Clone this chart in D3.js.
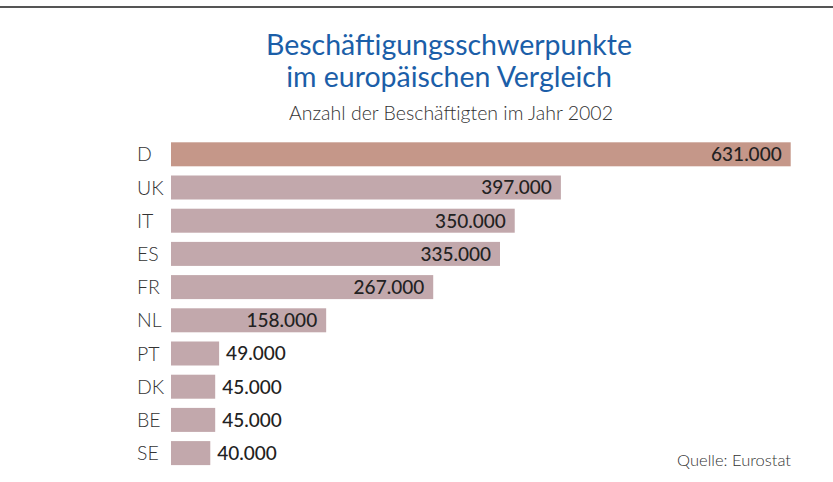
<!DOCTYPE html>
<html>
<head>
<meta charset="utf-8">
<script src="https://cdn.jsdelivr.net/npm/d3@7"></script>
<style>
  body { margin: 0; background: #fff; }
  svg { display: block; }
  text { font-family: Lato, "Open Sans", sans-serif; }
</style>
</head>
<body>
<div id="chart"></div>
<script>
'use strict';

// data
var countries = ['D', 'UK', 'IT', 'ES', 'FR', 'NL', 'PT', 'DK', 'BE', 'SE'],
    employees = [631000, 397000, 350000, 335000, 267000, 158000, 49000, 45000, 45000, 40000],
    highlighted = 'D',
    title_lines = ['Beschäftigungsschwerpunkte', 'im europäischen Vergleich'],
    subtitle = 'Anzahl der Beschäftigten im Jahr 2002',
    source = 'Quelle: Eurostat';

var width = 833,
    height = 482;

var svg = d3.select('#chart')
    .append('svg')
    .attr('width', width)
    .attr('height', height);

// rule along the top
svg.append('line')
    .attr('x1', 0).attr('x2', width)
    .attr('y1', 7).attr('y2', 7)
    .attr('stroke', '#555')
    .attr('stroke-width', 2);

// titles
svg.selectAll('.title')
    .data(title_lines)
    .enter().append('text')
    .attr('class', 'title')
    .attr('x', 449)
    .attr('y', function(d, i) { return 55 + i * 32; })
    .attr('text-anchor', 'middle')
    .attr('font-size', 28.5)
    .attr('fill', '#1b5ea8')
    .text(function(d) { return d; });

svg.append('text')
    .attr('x', 451)
    .attr('y', 120)
    .attr('text-anchor', 'middle')
    .attr('font-size', 19.5)
    .attr('font-weight', 300)
    .attr('fill', '#333')
    .text(subtitle);

var x = d3.scaleLinear()
    .domain([0, d3.max(employees)])
    .range([171, 790.7]);

var y = d3.scaleBand()
    .domain(countries)
    .range([142.3, 465.1])
    .paddingInner(0.277)
    .paddingOuter(0);

var rows = countries.map(function(c, i) { return { country: c, value: employees[i] }; });
var fmt = function(v) { return d3.format(',')(v).replace(/,/g, '.'); };

svg.selectAll('.bar')
    .data(rows)
    .enter().append('rect')
    .attr('class', 'bar')
    .attr('x', x(0))
    .attr('y', function(d) { return y(d.country); })
    .attr('width', function(d) { return x(d.value) - x(0); })
    .attr('height', y.bandwidth())
    .attr('fill', function(d) { return d.country === highlighted ? '#c59789' : '#c2a8ac'; });

// country names
svg.selectAll('.cat')
    .data(rows)
    .enter().append('text')
    .attr('class', 'cat')
    .attr('x', 137)
    .attr('y', function(d) { return y(d.country) + y.bandwidth() / 2; })
    .attr('dy', '0.36em')
    .attr('font-size', 19.5)
    .attr('font-weight', 300)
    .attr('fill', '#333')
    .text(function(d) { return d.country; });

// value labels, inside long bars and beside short ones
svg.selectAll('.val')
    .data(rows)
    .enter().append('text')
    .attr('class', 'val')
    .attr('x', function(d) { return d.value > 100000 ? x(d.value) - 9 : x(d.value) + 7; })
    .attr('y', function(d) { return y(d.country) + y.bandwidth() / 2; })
    .attr('dy', '0.36em')
    .attr('text-anchor', function(d) { return d.value > 100000 ? 'end' : 'start'; })
    .attr('font-size', 19)
    .attr('font-weight', 500)
    .attr('fill', '#222')
    .text(function(d) { return fmt(d.value); });

svg.append('text')
    .attr('x', 791)
    .attr('y', 466)
    .attr('text-anchor', 'end')
    .attr('font-size', 16.5)
    .attr('font-weight', 300)
    .attr('fill', '#333')
    .text(source);
</script>
</body>
</html>
